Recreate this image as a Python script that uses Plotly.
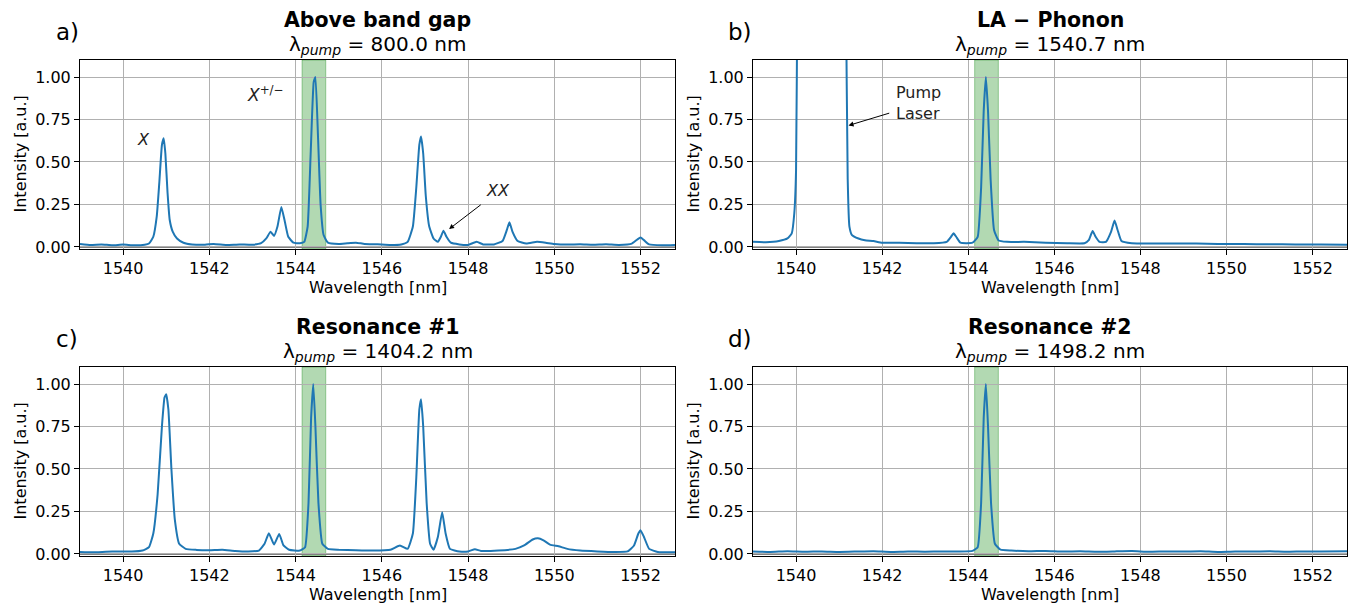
import plotly.graph_objects as go

W, H = 1353, 606

# ---------------- data ----------------
wl_a = [1539.0, 1539.25, 1539.5, 1539.75, 1540.0, 1540.25, 1540.5, 1540.6, 1540.7, 1540.78,
        1540.84, 1540.9, 1540.94, 1540.98, 1541.03, 1541.08, 1541.15, 1541.25, 1541.4, 1541.6,
        1541.9, 1542.1, 1542.4, 1542.7, 1543.0, 1543.2, 1543.32, 1543.42, 1543.5, 1543.58,
        1543.67, 1543.75, 1543.83, 1543.95, 1544.1, 1544.2, 1544.28, 1544.35, 1544.42, 1544.46,
        1544.52, 1544.58, 1544.65, 1544.75, 1545.0, 1545.2, 1545.4, 1545.6, 1545.9, 1546.2,
        1546.45, 1546.6, 1546.72, 1546.8, 1546.87, 1546.91, 1546.96, 1547.02, 1547.1, 1547.2,
        1547.3, 1547.37, 1547.43, 1547.5, 1547.6, 1547.8, 1548.0, 1548.2, 1548.35, 1548.6,
        1548.8, 1548.9, 1548.96, 1549.03, 1549.15, 1549.35, 1549.6, 1549.8, 1550.0, 1550.3,
        1550.6, 1550.9, 1551.2, 1551.5, 1551.8, 1551.93, 1552.0, 1552.08, 1552.2, 1552.5, 1552.8]
int_a = [0.018, 0.012, 0.015, 0.010, 0.014, 0.010, 0.013, 0.020, 0.060, 0.180,
         0.380, 0.600, 0.640, 0.550, 0.320, 0.160, 0.090, 0.050, 0.025, 0.015,
         0.013, 0.018, 0.012, 0.015, 0.013, 0.022, 0.050, 0.090, 0.065, 0.120,
         0.235, 0.150, 0.060, 0.025, 0.022, 0.030, 0.120, 0.550, 0.970, 1.000,
         0.650, 0.250, 0.070, 0.025, 0.018, 0.022, 0.025, 0.018, 0.016, 0.012,
         0.015, 0.030, 0.120, 0.350, 0.600, 0.650, 0.550, 0.300, 0.120, 0.050,
         0.030, 0.060, 0.095, 0.060, 0.025, 0.015, 0.012, 0.030, 0.015, 0.015,
         0.035, 0.100, 0.145, 0.090, 0.035, 0.020, 0.030, 0.025, 0.018, 0.014,
         0.016, 0.013, 0.016, 0.012, 0.020, 0.045, 0.055, 0.040, 0.015, 0.010, 0.012]

wl_b = [1539.0, 1539.3, 1539.6, 1539.8, 1539.9, 1539.96, 1540.0, 1540.03, 1540.1, 1540.6,
        1541.1, 1541.16, 1541.2, 1541.24, 1541.3, 1541.45, 1541.6, 1541.8, 1542.0, 1542.4,
        1542.8, 1543.2, 1543.5, 1543.6, 1543.66, 1543.72, 1543.82, 1544.1, 1544.22, 1544.3,
        1544.36, 1544.41, 1544.46, 1544.52, 1544.6, 1544.7, 1544.9, 1545.3, 1545.8, 1546.3,
        1546.7, 1546.8, 1546.89, 1546.96, 1547.05, 1547.2, 1547.32, 1547.4, 1547.47, 1547.56,
        1547.8, 1548.2, 1548.8, 1549.3, 1549.8, 1550.4, 1551.0, 1551.6, 1552.2, 1552.8]
int_b = [0.030, 0.028, 0.035, 0.050, 0.080, 0.200, 0.450, 1.500, 5.000, 8.000,
         5.000, 1.500, 0.400, 0.120, 0.070, 0.050, 0.040, 0.035, 0.025, 0.025,
         0.022, 0.022, 0.030, 0.060, 0.080, 0.060, 0.025, 0.025, 0.060, 0.350,
         0.800, 1.000, 0.800, 0.400, 0.100, 0.040, 0.030, 0.030, 0.025, 0.022,
         0.022, 0.040, 0.094, 0.060, 0.030, 0.030, 0.090, 0.155, 0.100, 0.035,
         0.022, 0.020, 0.020, 0.020, 0.018, 0.017, 0.016, 0.015, 0.015, 0.013]

wl_c = [1539.0, 1539.3, 1539.6, 1539.9, 1540.2, 1540.45, 1540.6, 1540.7, 1540.8, 1540.9,
        1540.96, 1541.0, 1541.05, 1541.12, 1541.2, 1541.3, 1541.45, 1541.7, 1542.0, 1542.3,
        1542.6, 1542.9, 1543.15, 1543.28, 1543.38, 1543.5, 1543.62, 1543.72, 1543.85, 1544.1,
        1544.22, 1544.3, 1544.36, 1544.41, 1544.46, 1544.53, 1544.62, 1544.75, 1545.0, 1545.4,
        1545.8, 1546.2, 1546.42, 1546.6, 1546.72, 1546.8, 1546.87, 1546.91, 1546.96, 1547.04,
        1547.12, 1547.2, 1547.3, 1547.4, 1547.48, 1547.58, 1547.8, 1548.0, 1548.16, 1548.3,
        1548.7, 1549.1, 1549.3, 1549.5, 1549.62, 1549.75, 1549.9, 1550.1, 1550.3, 1550.6,
        1551.0, 1551.4, 1551.7, 1551.85, 1551.95, 1552.0, 1552.08, 1552.2, 1552.4, 1552.8]
int_c = [0.012, 0.010, 0.013, 0.015, 0.014, 0.020, 0.040, 0.120, 0.350, 0.750,
         0.920, 0.940, 0.850, 0.500, 0.200, 0.060, 0.030, 0.024, 0.022, 0.025,
         0.018, 0.015, 0.020, 0.060, 0.122, 0.055, 0.118, 0.050, 0.025, 0.020,
         0.040, 0.300, 0.800, 1.000, 0.750, 0.300, 0.060, 0.030, 0.025, 0.022,
         0.020, 0.025, 0.050, 0.030, 0.120, 0.450, 0.850, 0.910, 0.750, 0.300,
         0.060, 0.025, 0.100, 0.245, 0.120, 0.030, 0.015, 0.015, 0.028, 0.018,
         0.020, 0.030, 0.050, 0.085, 0.092, 0.080, 0.055, 0.045, 0.030, 0.020,
         0.015, 0.012, 0.015, 0.050, 0.120, 0.140, 0.100, 0.030, 0.012, 0.010]

wl_d = [1539.0, 1539.4, 1539.8, 1540.2, 1540.6, 1541.0, 1541.4, 1541.8, 1542.2, 1542.6,
        1543.0, 1543.4, 1543.8, 1544.1, 1544.22, 1544.3, 1544.36, 1544.41, 1544.46, 1544.53,
        1544.62, 1544.75, 1545.0, 1545.4, 1545.8, 1546.2, 1546.6, 1547.0, 1547.4, 1547.8,
        1548.2, 1548.6, 1549.0, 1549.4, 1549.8, 1550.2, 1550.6, 1551.0, 1551.4, 1551.8,
        1552.2, 1552.8]
int_d = [0.015, 0.012, 0.016, 0.013, 0.015, 0.012, 0.014, 0.016, 0.012, 0.015,
         0.013, 0.015, 0.014, 0.018, 0.040, 0.300, 0.800, 1.000, 0.750, 0.300,
         0.060, 0.025, 0.020, 0.016, 0.018, 0.014, 0.016, 0.013, 0.015, 0.017,
         0.013, 0.015, 0.014, 0.016, 0.012, 0.015, 0.014, 0.016, 0.013, 0.015,
         0.014, 0.016]

titles = ["Above band gap", "LA − Phonon", "Resonance #1", "Resonance #2"]
pump_wl = ["800.0", "1540.7", "1404.2", "1498.2"]
panel_tags = ["a)", "b)", "c)", "d)"]
band = [1544.15, 1544.70]
x_ticks = [1540, 1542, 1544, 1546, 1548, 1550, 1552]
y_ticks = [0.0, 0.25, 0.5, 0.75, 1.0]
y_tick_text = ["0.00", "0.25", "0.50", "0.75", "1.00"]

series = [(wl_a, int_a), (wl_b, int_b), (wl_c, int_c), (wl_d, int_d)]

# ---------------- layout geometry (pixels) ----------------
cols = [(80, 675), (753, 1347)]
rows = [(60, 249), (367, 556)]

def px(x):
    return x / W

def py(y):
    return 1 - y / H

FONT = "DejaVu Sans"
fig = go.Figure()
annotations = []
shapes = []
layout = {}

for i, (wl, inten) in enumerate(series):
    r, c = divmod(i, 2)
    x0, x1 = cols[c]
    y0, y1 = rows[r]
    n = "" if i == 0 else str(i + 1)
    xa, ya = "x" + n, "y" + n
    common = dict(showline=True, linecolor="black", linewidth=1, mirror=True,
                  showgrid=True, gridcolor="#b0b0b0", gridwidth=1,
                  ticks="outside", ticklen=5, tickwidth=1, tickcolor="black",
                  tickfont=dict(family=FONT, size=16, color="black"), zeroline=False,
                  automargin=False)
    layout["xaxis" + n] = dict(domain=[px(x0), px(x1)], range=[1539, 1552.8],
                               tickvals=x_ticks, anchor=ya, **common)
    layout["yaxis" + n] = dict(domain=[py(y1), py(y0)], range=[-0.012, 1.1],
                               tickvals=y_ticks, ticktext=y_tick_text, anchor=xa, **common)
    # green band
    shapes.append(dict(type="rect", xref=xa, yref="paper", x0=band[0], x1=band[1],
                       y0=py(y1), y1=py(y0), fillcolor="rgba(0,128,0,0.3)",
                       line=dict(color="rgba(0,128,0,0.35)", width=1), layer="below"))
    # zero line
    shapes.append(dict(type="line", xref="paper", yref=ya, x0=px(x0), x1=px(x1), y0=0, y1=0,
                       line=dict(color="gray", width=2), layer="below"))
    fig.add_trace(go.Scatter(x=wl, y=inten, mode="lines", xaxis=xa, yaxis=ya,
                             line=dict(color="#1f77b4", width=2, shape="spline", smoothing=0.4),
                             showlegend=False, hoverinfo="skip"))
    cx = (x0 + x1) / 2
    annotations.append(dict(text="<b>" + titles[i] + "</b>", x=px(cx), y=py(y0 - 40),
                            xref="paper", yref="paper", showarrow=False,
                            font=dict(family=FONT, size=20.5, color="black"),
                            xanchor="center", yanchor="middle"))
    annotations.append(dict(text="λ<sub><i>pump</i></sub> = " + pump_wl[i] + " nm",
                            x=px(cx), y=py(y0 - 15), xref="paper", yref="paper",
                            showarrow=False, font=dict(family=FONT, size=20, color="black"),
                            xanchor="center", yanchor="middle"))
    annotations.append(dict(text=panel_tags[i], x=px(x0 - 13), y=py(y0 - 28),
                            xref="paper", yref="paper", showarrow=False,
                            font=dict(family=FONT, size=23, color="black"),
                            xanchor="center", yanchor="middle"))
    annotations.append(dict(text="Wavelength [nm]", x=px(cx), y=py(y1 + 38),
                            xref="paper", yref="paper", showarrow=False,
                            font=dict(family=FONT, size=16, color="black"),
                            xanchor="center", yanchor="middle"))
    annotations.append(dict(text="Intensity [a.u.]", x=px(x0 - 60), y=py((y0 + y1) / 2),
                            xref="paper", yref="paper", showarrow=False, textangle=-90,
                            font=dict(family=FONT, size=16, color="black"),
                            xanchor="center", yanchor="middle"))

# in-plot labels
lab_font = dict(family=FONT, size=16, color="#222222")
annotations += [
    dict(text="<i>X</i>", x=1540.47, y=0.63, xref="x", yref="y", showarrow=False, font=lab_font),
    dict(text="<i>X</i><sup>+/−</sup>", x=1543.3, y=0.9, xref="x", yref="y", showarrow=False,
         font=dict(family=FONT, size=17, color="#222222")),
    dict(text="<i>XX</i>", x=1548.7, y=0.335, xref="x", yref="y", showarrow=False, font=lab_font),
    dict(text="", x=1547.56, y=0.105, ax=1548.33, ay=0.255, xref="x", yref="y",
         axref="x", ayref="y", showarrow=True, arrowhead=2, arrowsize=1, arrowwidth=1,
         arrowcolor="black", standoff=0, startstandoff=0),
    dict(text="Pump<br>Laser", x=1542.85, y=0.845, xref="x2", yref="y2", showarrow=False,
         font=lab_font, align="left"),
    dict(text="", x=1541.22, y=0.715, ax=1542.2, ay=0.79, xref="x2", yref="y2",
         axref="x2", ayref="y2", showarrow=True, arrowhead=2, arrowsize=1, arrowwidth=1,
         arrowcolor="black", standoff=0, startstandoff=0),
]

fig.update_layout(width=W, height=H, margin=dict(l=0, r=0, t=0, b=0, autoexpand=False),
                  paper_bgcolor="white", plot_bgcolor="white",
                  font=dict(family=FONT, color="black"),
                  annotations=annotations, shapes=shapes, **layout)

fig.write_html("out.html")
